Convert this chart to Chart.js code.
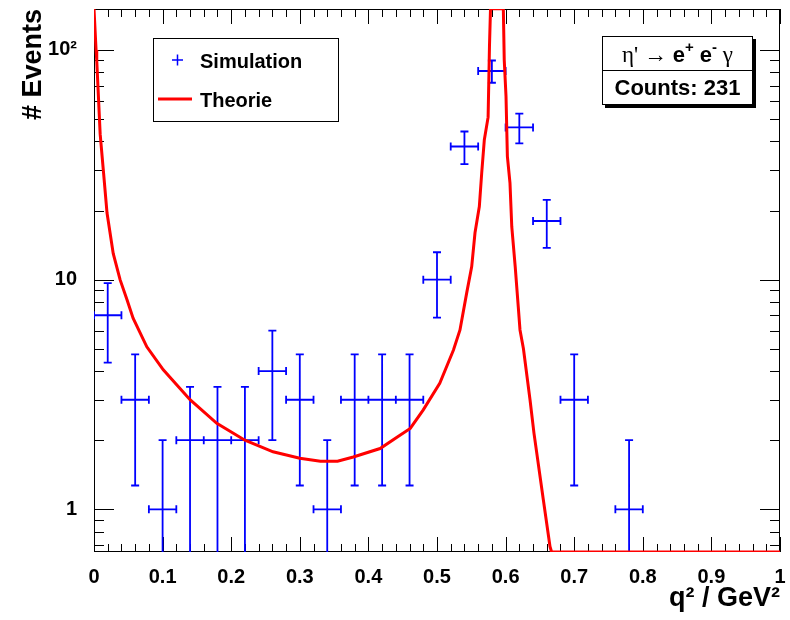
<!DOCTYPE html>
<html>
<head>
<meta charset="utf-8">
<title>q2 spectrum</title>
<script src="https://cdn.jsdelivr.net/npm/chart.js@4.4.1/dist/chart.umd.min.js"></script>
<style>
  body { margin: 0; background: #fff; }
  #wrap { width: 790px; height: 620px; }
</style>
</head>
<body>
<div id="wrap"><canvas id="myChart" width="790" height="620"></canvas></div>
<script>
// simulation histogram (bins of 0.04 GeV^2)
var binCenters = [0.02, 0.06, 0.10, 0.14, 0.18, 0.22, 0.26, 0.30, 0.34, 0.38, 0.42, 0.46, 0.50, 0.54, 0.58, 0.62, 0.66, 0.70, 0.78];
var simCounts  = [7, 3, 1, 2, 2, 2, 4, 3, 1, 3, 3, 3, 10, 38, 81, 46, 18, 3, 1];
var simErrors  = [2.65, 1.73, 1, 1.41, 1.41, 1.41, 2, 1.73, 1, 1.73, 1.73, 1.73, 3.16, 6.16, 9, 6.78, 4.24, 1.73, 1];
var binHalfWidth = 0.02;

// theory curve
var theoryX = [0.000, 0.003, 0.004, 0.009, 0.014, 0.019, 0.028, 0.038, 0.048, 0.057, 0.077, 0.101, 0.140, 0.179, 0.220,
               0.261, 0.300, 0.330, 0.355, 0.378, 0.417, 0.446, 0.461, 0.480, 0.504, 0.524, 0.5335, 0.5433, 0.5506,
               0.5554, 0.5617, 0.5652, 0.569, 0.5745, 0.5765, 0.578, 0.5967, 0.598, 0.6006, 0.6026, 0.6064, 0.609,
               0.614, 0.6185, 0.621, 0.626, 0.6356, 0.6414, 0.655, 0.6647, 0.667, 1.0];
var theoryY = [151, 100, 90, 43, 29, 19.5, 13, 10, 8.2, 6.8, 5.1, 4.05, 3.0, 2.37, 2.0,
               1.78, 1.67, 1.62, 1.62, 1.69, 1.84, 2.1, 2.25, 2.71, 3.54, 4.94, 6.04, 8.76, 11.4,
               16, 20.8, 29.2, 40.7, 51, 104, 151, 151, 90.7, 62.8, 34.4, 26.3, 17,
               11.4, 7.6, 6.04, 5.0, 3.0, 2.14, 1.1, 0.69, 0.652, 0.652];

var xTickLabels = ['0', '0.1', '0.2', '0.3', '0.4', '0.5', '0.6', '0.7', '0.8', '0.9', '1'];
var yTicks = [1, 10, 100];
var yTickLabels = ['1', '10', '10²'];
var yMin = 0.652, yMax = 150.8;

var legendLabels = ['Simulation', 'Theorie'];
var statsText = 'Counts: 231';

var simPoints = binCenters.map(function (x, i) { return {x: x, y: simCounts[i]}; });
var theoryPoints = theoryX.map(function (x, i) { return {x: x, y: theoryY[i]}; });

// frame, inner ticks and error bars, ROOT style
var rootFrame = {
  id: 'rootFrame',
  beforeDatasetsDraw: function (chart) {
    var ctx = chart.ctx, a = chart.chartArea, xs = chart.scales.x, ys = chart.scales.y;
    ctx.save();
    ctx.strokeStyle = '#000';
    ctx.lineWidth = 1;
    ctx.strokeRect(a.left + 0.5, a.top + 0.5, a.right - a.left - 1, a.bottom - a.top - 1);
    ctx.beginPath();
    for (var k = 0; k <= 50; k++) {
      var px = Math.round(xs.getPixelForValue(k / 50)) + 0.5;
      var len = (k % 5 === 0) ? 15 : 8;
      ctx.moveTo(px, a.bottom); ctx.lineTo(px, a.bottom - len);
      ctx.moveTo(px, a.top); ctx.lineTo(px, a.top + len);
    }
    for (var d = -1; d <= 2; d++) {
      for (var m = 1; m <= 9; m++) {
        var v = m * Math.pow(10, d);
        if (v < yMin || v > yMax) continue;
        var py = Math.round(ys.getPixelForValue(v)) + 0.5;
        var l2 = (m === 1) ? 20 : 10;
        ctx.moveTo(a.left, py); ctx.lineTo(a.left + l2, py);
        ctx.moveTo(a.right, py); ctx.lineTo(a.right - l2, py);
      }
    }
    ctx.stroke();

    // error bars
    ctx.beginPath();
    ctx.rect(a.left, a.top, a.right - a.left, a.bottom - a.top);
    ctx.clip();
    ctx.strokeStyle = '#0000ff';
    ctx.lineWidth = 1.8;
    ctx.beginPath();
    var cap = 4;
    for (var i = 0; i < binCenters.length; i++) {
      var cx = xs.getPixelForValue(binCenters[i]);
      var cy = ys.getPixelForValue(simCounts[i]);
      var x0 = xs.getPixelForValue(binCenters[i] - binHalfWidth);
      var x1 = xs.getPixelForValue(binCenters[i] + binHalfWidth);
      var lo = simCounts[i] - simErrors[i];
      var y0 = lo > yMin ? ys.getPixelForValue(lo) : a.bottom + 5;
      var y1 = ys.getPixelForValue(simCounts[i] + simErrors[i]);
      ctx.moveTo(x0, cy); ctx.lineTo(x1, cy);
      ctx.moveTo(x0, cy - cap); ctx.lineTo(x0, cy + cap);
      ctx.moveTo(x1, cy - cap); ctx.lineTo(x1, cy + cap);
      ctx.moveTo(cx, y0); ctx.lineTo(cx, y1);
      ctx.moveTo(cx - cap, y1); ctx.lineTo(cx + cap, y1);
      if (lo > yMin) { ctx.moveTo(cx - cap, y0); ctx.lineTo(cx + cap, y0); }
    }
    ctx.stroke();
    ctx.restore();
  },
  afterDraw: function (chart) {
    var ctx = chart.ctx;
    ctx.save();
    // legend box
    ctx.fillStyle = '#fff';
    ctx.fillRect(153, 38, 185, 83);
    ctx.strokeStyle = '#000';
    ctx.lineWidth = 1;
    ctx.strokeRect(153.5, 38.5, 185, 83);
    ctx.strokeStyle = '#0000ff';
    ctx.lineWidth = 1.5;
    ctx.beginPath();
    ctx.moveTo(172, 60); ctx.lineTo(183, 60);
    ctx.moveTo(177.5, 54.5); ctx.lineTo(177.5, 65.5);
    ctx.stroke();
    ctx.strokeStyle = '#ff0000';
    ctx.lineWidth = 3;
    ctx.beginPath();
    ctx.moveTo(158, 99); ctx.lineTo(192, 99);
    ctx.stroke();
    ctx.fillStyle = '#000';
    ctx.font = 'bold 20px "Liberation Sans", Arial, sans-serif';
    ctx.textBaseline = 'alphabetic';
    ctx.textAlign = 'left';
    ctx.fillText(legendLabels[0], 200, 68);
    ctx.fillText(legendLabels[1], 200, 107);

    // stats box with shadow
    ctx.fillStyle = '#000';
    ctx.fillRect(605, 39, 151, 69);
    ctx.fillStyle = '#fff';
    ctx.fillRect(602, 36, 151, 69);
    ctx.strokeStyle = '#000';
    ctx.lineWidth = 1;
    ctx.strokeRect(602.5, 36.5, 150, 68);
    ctx.beginPath();
    ctx.moveTo(602, 70.5); ctx.lineTo(753, 70.5);
    ctx.stroke();

    var serif = '23px "Liberation Serif", "DejaVu Serif", serif';
    var bold = 'bold 22px "Liberation Sans", Arial, sans-serif';
    var sup = 'bold 15px "Liberation Sans", Arial, sans-serif';
    var parts = [
      {t: "η' → ", f: serif, dy: 0},
      {t: 'e', f: bold, dy: 0},
      {t: '+', f: sup, dy: -10},
      {t: ' e', f: bold, dy: 0},
      {t: '-', f: sup, dy: -10},
      {t: ' γ', f: serif, dy: 0}
    ];
    var total = 0;
    parts.forEach(function (p) { ctx.font = p.f; p.w = ctx.measureText(p.t).width; total += p.w; });
    var tx = 677.5 - total / 2;
    ctx.fillStyle = '#000';
    parts.forEach(function (p) { ctx.font = p.f; ctx.fillText(p.t, tx, 62 + p.dy); tx += p.w; });
    ctx.font = bold;
    ctx.textAlign = 'center';
    ctx.fillText(statsText, 677.5, 95);
    ctx.restore();
  }
};

var ctx = document.getElementById('myChart').getContext('2d');
var myChart = new Chart(ctx, {
  type: 'scatter',
  data: {
    datasets: [{
      label: legendLabels[0],
      data: simPoints,
      pointRadius: 0,
      showLine: false,
      borderColor: '#0000ff',
      backgroundColor: '#0000ff'
    }, {
      label: legendLabels[1],
      data: theoryPoints,
      showLine: true,
      pointRadius: 0,
      borderColor: '#ff0000',
      borderWidth: 3,
      tension: 0,
      fill: false
    }]
  },
  options: {
    responsive: false,
    animation: false,
    devicePixelRatio: 1,
    layout: { padding: { left: 0, top: 9, right: 10, bottom: 0 } },
    plugins: {
      legend: { display: false },
      tooltip: { enabled: false }
    },
    scales: {
      x: {
        type: 'linear',
        min: 0,
        max: 1,
        grid: { display: false },
        border: { display: false },
        afterBuildTicks: function (scale) {
          scale.ticks = xTickLabels.map(function (t) { return {value: parseFloat(t)}; });
        },
        ticks: {
          autoSkip: false,
          maxRotation: 0,
          padding: 5,
          color: '#000',
          font: { family: '"Liberation Sans", Arial, sans-serif', size: 20, weight: 'bold' },
          callback: function (v, i) { return xTickLabels[i]; }
        },
        title: {
          display: true,
          text: 'q² / GeV²',
          align: 'end',
          color: '#000',
          padding: { top: 0, bottom: 5 },
          font: { family: '"Liberation Sans", Arial, sans-serif', size: 27, weight: 'bold' }
        },
        afterFit: function (scale) { scale.height = 68; scale.paddingLeft = 0; scale.paddingRight = 0; }
      },
      y: {
        type: 'logarithmic',
        min: yMin,
        max: yMax,
        grid: { display: false },
        border: { display: false },
        afterBuildTicks: function (scale) {
          scale.ticks = yTicks.map(function (v) { return {value: v}; });
        },
        ticks: {
          autoSkip: false,
          padding: 9,
          color: '#000',
          font: { family: '"Liberation Sans", Arial, sans-serif', size: 20, weight: 'bold' },
          callback: function (v, i) { return yTickLabels[i]; }
        },
        title: {
          display: true,
          text: '# Events',
          align: 'end',
          color: '#000',
          padding: { top: 17, bottom: 0 },
          font: { family: '"Liberation Sans", Arial, sans-serif', size: 27, weight: 'bold' }
        },
        afterFit: function (scale) { scale.width = 94; scale.paddingTop = 0; scale.paddingBottom = 0; }
      }
    }
  },
  plugins: [rootFrame]
});
</script>
</body>
</html>
